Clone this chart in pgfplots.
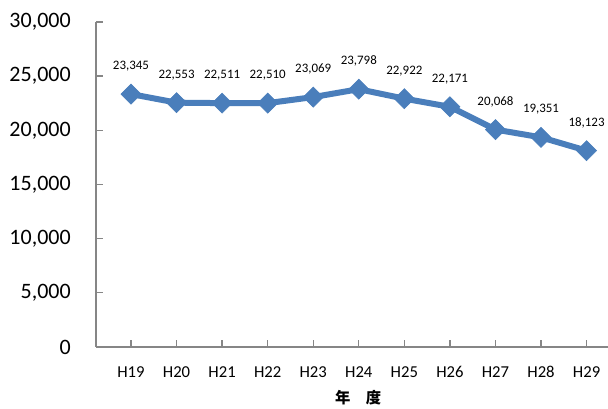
\documentclass[border=0pt]{standalone}
\usepackage{pgfplots}
\pgfplotsset{compat=1.18}
\usepackage{fontspec}
\setmainfont{Carlito}
\newfontfamily\cjk{Noto Sans CJK JP}
\definecolor{lineblue}{HTML}{4A7EBB}
\definecolor{axgray}{HTML}{868686}
\begin{document}
\begin{tikzpicture}
\path[use as bounding box] (0,0) rectangle (456pt,306.75pt);
\begin{axis}[
  at={(72pt,46.5pt)}, anchor=south west,
  scale only axis, width=384pt, height=243.75pt,
  axis lines*=left,
  axis line style={axgray, line width=1.1pt},
  xmin=-0.768, xmax=10.47, ymin=0, ymax=30000,
  xtick={0,...,10},
  xticklabels={H19,H20,H21,H22,H23,H24,H25,H26,H27,H28,H29},
  ytick={0,5000,...,30000},
  scaled y ticks=false,
  /pgf/number format/assume math mode=true,
  yticklabel={\pgfmathprintnumber[1000 sep={,}]{\tick}},
  tick align=inside, major tick length=5pt,
  tick style={axgray, line width=1pt},
  yticklabel style={font=\fontsize{16.5pt}{18pt}\selectfont, anchor=east, inner sep=0pt, xshift=-18.75pt},
  xticklabel style={font=\fontsize{12.5pt}{14pt}\selectfont, anchor=north, inner sep=0pt, yshift=-14.25pt},
  xlabel={\cjk\bfseries 年\hspace{1em}度},
  xlabel style={font=\fontsize{11.5pt}{13pt}\selectfont, at={(axis description cs:0.512,0)}, anchor=center, yshift=-38.25pt},
  clip=false,
]
\addplot[lineblue, line width=4.5pt, mark=square*, mark size=5.3pt,
  mark options={rotate=45, fill=lineblue, draw=lineblue, line width=0.5pt},
  point meta=explicit,
  nodes near coords={\pgfmathprintnumber[1000 sep={,}, fixed, precision=0]{\pgfplotspointmeta}},
  nodes near coords style={font=\fontsize{9.7pt}{11pt}\selectfont, black, anchor=center, yshift=21pt, /pgf/number format/assume math mode=true},
] table[meta=y] {
x y
0 23345
1 22553
2 22511
3 22510
4 23069
5 23798
6 22922
7 22171
8 20068
9 19351
10 18123
};
\end{axis}
\end{tikzpicture}
\end{document}
